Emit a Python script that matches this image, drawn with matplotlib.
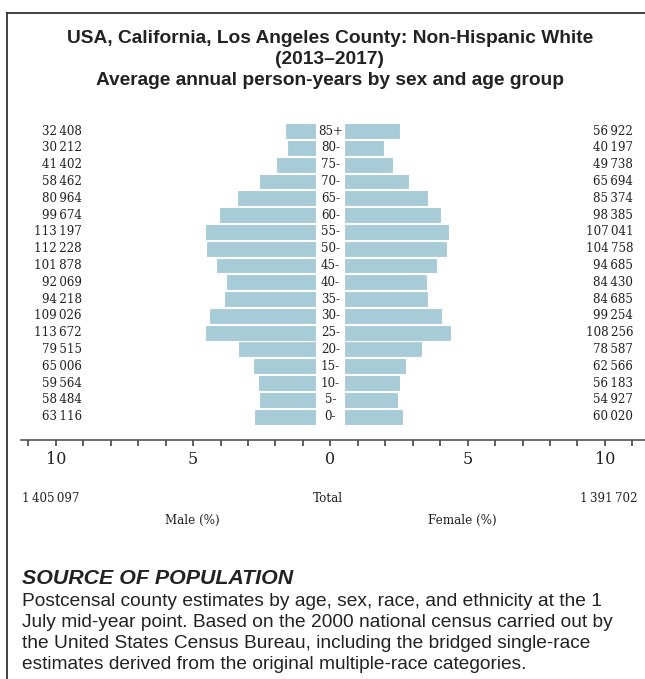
import numpy as np
import matplotlib.pyplot as plt
from matplotlib.ticker import FixedLocator, MultipleLocator, FixedFormatter

# age groups, youngest first
ages = ['0-', '5-', '10-', '15-', '20-', '25-', '30-', '35-', '40-',
        '45-', '50-', '55-', '60-', '65-', '70-', '75-', '80-', '85+']
male = [63116, 58484, 59564, 65006, 79515, 113672, 109026, 94218, 92069,
        101878, 112228, 113197, 99674, 80964, 58462, 41402, 30212, 32408]
female = [60020, 54927, 56183, 62566, 78587, 108256, 99254, 84685, 84430,
          94685, 104758, 107041, 98385, 85374, 65694, 49738, 40197, 56922]
male_total = 1405097
female_total = 1391702

title_lines = ['USA, California, Los Angeles County: Non-Hispanic White',
               '(2013\u20132017)',
               'Average annual person-years by sex and age group']
source_head = 'SOURCE OF POPULATION'
source_lines = [
    'Postcensal county estimates by age, sex, race, and ethnicity at the 1',
    'July mid-year point. Based on the 2000 national census carried out by',
    'the United States Census Bureau, including the bridged single-race',
    'estimates derived from the original multiple-race categories.',
]

BAR = '#a8cbd8'
GAP = 0.51  # half gap (in %) kept free for the age labels
SERIF = 'DejaVu Serif'
SANS = 'Liberation Sans'
INK = '#222222'


def fmt(n):
    return f'{n:,}'.replace(',', '\u2009')


W, H = 645, 679
fig = plt.figure(figsize=(W / 100, H / 100), dpi=100)


def px(x, y):
    # pixel position (from top-left) -> figure fraction
    return x / W, 1 - y / H


male = np.array(male)
female = np.array(female)
total = male_total + female_total
mp = male / total * 100
fp = female / total * 100
y = np.arange(len(ages))

ax = fig.add_axes([21 / W, 1 - 440 / H, 624 / W, 325 / H])
ax.barh(y, mp, left=-(GAP + mp), height=0.95, color=BAR,
        edgecolor='white', linewidth=0.8)
ax.barh(y, fp, left=GAP, height=0.95, color=BAR,
        edgecolor='white', linewidth=0.8)

for i, a in enumerate(ages):
    ax.text(0, i, a, ha='center', va='center', family=SERIF, fontsize=8.6,
            color=INK)
    ax.text(-9.06, i, fmt(male[i]), ha='right', va='center', family=SERIF,
            fontsize=8.6, color=INK)
    ax.text(11.03, i, fmt(female[i]), ha='right', va='center', family=SERIF,
            fontsize=8.6, color=INK)

ax.set_xlim(-11.27, 11.46)
ax.set_ylim(-1.39, 17.96)
for s in ['top', 'right', 'left']:
    ax.spines[s].set_visible(False)
ax.spines['bottom'].set_color('#555555')
ax.spines['bottom'].set_linewidth(1.2)
ax.set_yticks([])
ax.xaxis.set_major_locator(FixedLocator([-10, -5, 0, 5, 10]))
ax.xaxis.set_major_formatter(FixedFormatter(['10', '5', '0', '5', '10']))
ax.xaxis.set_minor_locator(MultipleLocator(1))
ax.tick_params(axis='x', which='both', direction='out', length=4,
               width=1.2, color='#444444', pad=4)
ax.tick_params(axis='x', which='major', labelsize=11.5, labelcolor=INK)
for lab in ax.get_xticklabels():
    lab.set_family(SERIF)

# titles
for k, line in enumerate(title_lines):
    fig.text(*px(330, 43 + 21 * k), line, ha='center', va='baseline',
             family=SANS, fontweight='bold', fontsize=13.8, color=INK)

# totals and axis captions
fig.text(*px(22, 498), fmt(male_total), ha='left', va='center',
         family=SERIF, fontsize=8.6, color=INK)
fig.text(*px(637, 498), fmt(female_total), ha='right', va='center',
         family=SERIF, fontsize=8.6, color=INK)
fig.text(*px(328, 498), 'Total', ha='center', va='center',
         family=SERIF, fontsize=8.6, color=INK)
fig.text(*px(192, 520), 'Male (%)', ha='center', va='center',
         family=SERIF, fontsize=8.6, color=INK)
fig.text(*px(462, 520), 'Female (%)', ha='center', va='center',
         family=SERIF, fontsize=8.6, color=INK)

# source note
fig.text(*px(22, 578), source_head, ha='left', va='center', family=SANS,
         fontweight='bold', style='italic', fontsize=15.4, color=INK)
for k, line in enumerate(source_lines):
    fig.text(*px(22, 606 + 21 * k), line, ha='left', va='baseline',
             family=SANS, fontsize=13.8, color=INK)

# frame lines
fig.add_artist(plt.Line2D([7 / W, 7 / W], [0, 1 - 13 / H],
                          transform=fig.transFigure, color='#333333', lw=1.3))
fig.add_artist(plt.Line2D([7 / W, 1], [1 - 13 / H, 1 - 13 / H],
                          transform=fig.transFigure, color='#333333', lw=1.3))

fig.savefig('out.png', dpi=100)
